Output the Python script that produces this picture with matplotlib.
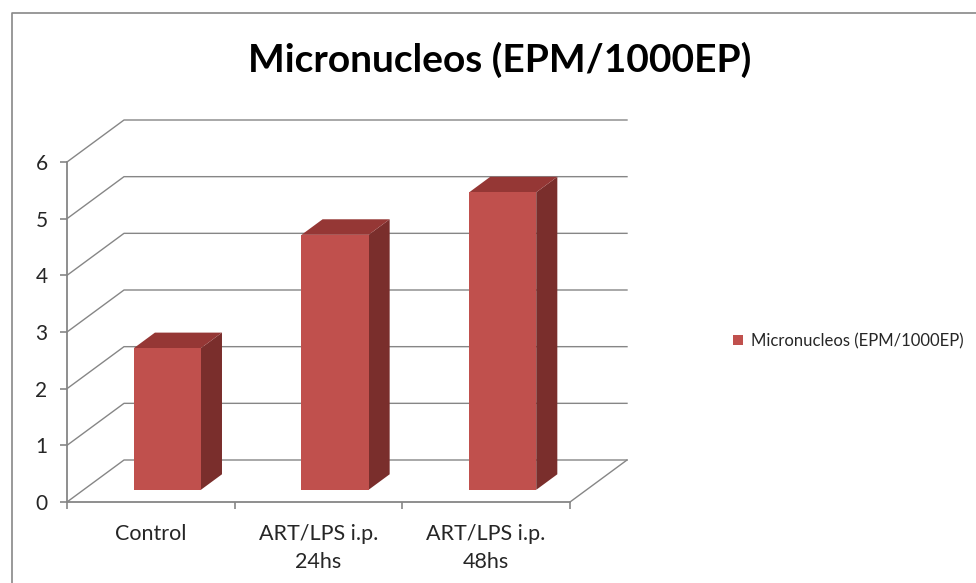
import matplotlib
matplotlib.use("Agg")
import matplotlib.pyplot as plt
from matplotlib.patches import Polygon, Patch
from matplotlib.lines import Line2D

# data
categories = ["Control", "ART/LPS i.p.\n24hs", "ART/LPS i.p.\n48hs"]
values = [2.5, 4.5, 5.25]
series_name = "Micronucleos (EPM/1000EP)"
yticks = [0, 1, 2, 3, 4, 5, 6]

W, H = 976, 583
fig = plt.figure(figsize=(W / 100, H / 100), dpi=100)
plt.rcParams['font.family'] = ['Lato', 'DejaVu Sans']

# pixel layout of the front plane: category 0 at x=67, 3 at x=570; value 0 at y=502, 6 at y=162
px_c = (570 - 67) / 3.0
px_v = (502 - 162) / 6.0
ax = fig.add_axes([0, 0, 1, 1])
ax.set_xlim(-67 / px_c, (W - 67) / px_c)
ax.set_ylim(-(H - 502) / px_v, 502 / px_v)

# oblique depth offset (back wall is 57px right, 42px up)
DX = 57 / px_c
DY = 42 / px_v

def proj(c, v, f):
    return (c + f * DX, v + f * DY)

grid_col = '#868686'
n = len(categories)

# walls / gridlines
for v in yticks:
    ax.plot([0, DX, n + DX], [v, v + DY, v + DY], color=grid_col, lw=1.0, zorder=1)
# floor right edge
ax.plot([n, n + DX], [0, DY], color=grid_col, lw=1.0, zorder=1)

# bars
bar_w = 0.4
f0, f1 = 0.29, 0.66
front_col, top_col, side_col = '#C0504D', '#953735', '#7A2E2C'
for i, val in enumerate(values):
    c0 = i + 0.5 - bar_w / 2
    c1 = i + 0.5 + bar_w / 2
    front = [proj(c0, 0, f0), proj(c1, 0, f0), proj(c1, val, f0), proj(c0, val, f0)]
    top = [proj(c0, val, f0), proj(c1, val, f0), proj(c1, val, f1), proj(c0, val, f1)]
    side = [proj(c1, 0, f0), proj(c1, 0, f1), proj(c1, val, f1), proj(c1, val, f0)]
    ax.add_patch(Polygon(side, closed=True, fc=side_col, ec='none', zorder=3))
    ax.add_patch(Polygon(top, closed=True, fc=top_col, ec='none', zorder=3))
    ax.add_patch(Polygon(front, closed=True, fc=front_col, ec='none', zorder=4))

# axes
for s in ['top', 'right']:
    ax.spines[s].set_visible(False)
ax.spines['left'].set_position(('data', 0))
ax.spines['bottom'].set_position(('data', 0))
ax.spines['left'].set_bounds(0, yticks[-1])
ax.spines['bottom'].set_bounds(0, n)
for s in ['left', 'bottom']:
    ax.spines[s].set_color(grid_col)
    ax.spines[s].set_linewidth(1.3)
    ax.spines[s].set_zorder(2)
ax.patch.set_visible(False)

ax.set_yticks(yticks)
ax.set_yticklabels([str(t) for t in yticks])
ax.tick_params(axis='y', direction='out', length=5, width=1.2, color=grid_col,
               pad=9, labelsize=15, labelcolor='#262626')
ax.set_xticks(range(n + 1))
ax.set_xticklabels([''] * (n + 1))
ax.set_xticks([i + 0.5 for i in range(n)], minor=True)
ax.set_xticklabels(categories, minor=True, fontsize=15.5, color='#262626', linespacing=1.5)
ax.tick_params(axis='x', which='major', direction='out', length=5, width=1.2, color=grid_col)
ax.tick_params(axis='x', which='minor', length=0, pad=16)

# title
fig.text(500 / W, 1 - 60 / H, series_name, ha='center', va='center',
         fontsize=28, fontweight='bold', color='black')

# legend
fig.legend(handles=[Patch(fc=front_col, ec='none', label=series_name)],
           loc='center left', bbox_to_anchor=(733 / W, 1 - 341 / H),
           borderpad=0, borderaxespad=0,
           frameon=False, fontsize=12, handlelength=0.6, handleheight=0.6,
           handletextpad=0.5, labelcolor='#262626')

# chart area border (top and left only visible)
fig.add_artist(Line2D([12 / W, 12 / W, 1], [0, 1 - 13 / H, 1 - 13 / H],
                      transform=fig.transFigure, color='#888888', lw=1.2))

fig.savefig('out.png', dpi=100)
